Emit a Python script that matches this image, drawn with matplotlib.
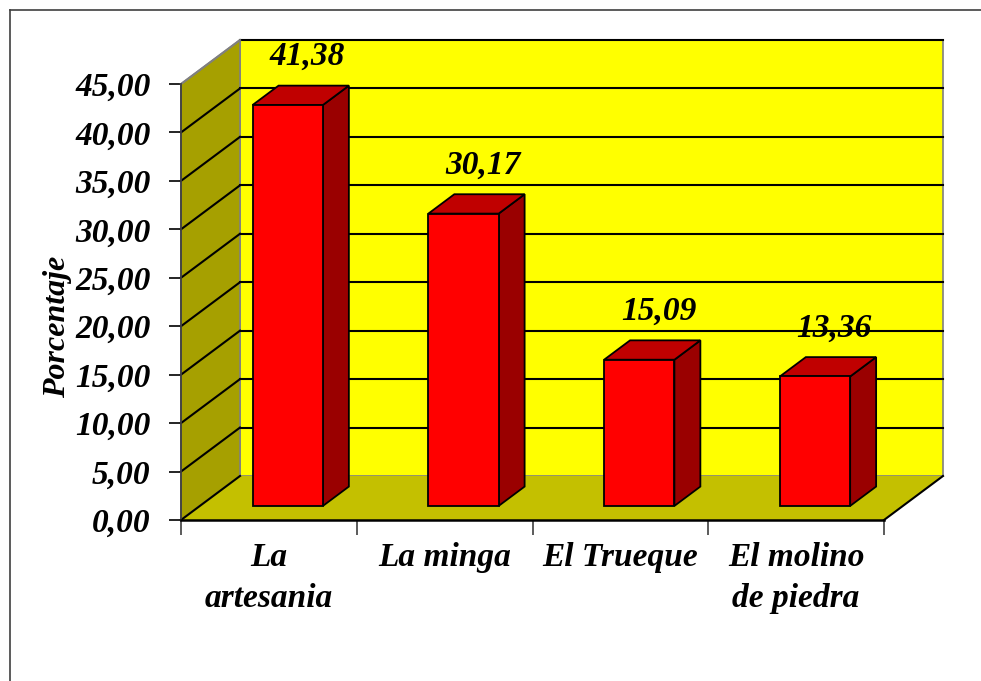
import matplotlib
matplotlib.use("Agg")
import matplotlib.pyplot as plt
from matplotlib.patches import Polygon
from matplotlib.lines import Line2D
import numpy as np

categorias = ["La\nartesania", "La minga", "El Trueque", "El molino\nde piedra"]
valores = [41.38, 30.17, 15.09, 13.36]
etiquetas = ["41,38", "30,17", "15,09", "13,36"]
yticks = [0, 5, 10, 15, 20, 25, 30, 35, 40, 45]

font = dict(family="Liberation Serif", weight="bold", style="italic")

fig = plt.figure(figsize=(9.81, 6.81), dpi=100)
ax = fig.add_axes([181 / 981, 161 / 681, 703 / 981, 436 / 681])
ax.set_xlim(-0.5, 3.5)
ax.set_ylim(0, 45)
ax.set_facecolor("none")

# depth offset of the back wall, in data units
ddx = 59 / 175.75
ddy = 44 / (436 / 45)
z0, z1 = 0.32, 0.76
bw = 0.2

x0, x1 = -0.5, 3.5
ymax = 45

# walls and floor
ax.add_patch(Polygon([(x0 + ddx, ddy), (x1 + ddx, ddy), (x1 + ddx, ymax + ddy), (x0 + ddx, ymax + ddy)],
                     closed=True, fc="#FFFF00", ec="#808080", lw=1.2, clip_on=False, zorder=1))
ax.add_patch(Polygon([(x0, 0), (x0 + ddx, ddy), (x0 + ddx, ymax + ddy), (x0, ymax)],
                     closed=True, fc="#A6A000", ec="#808080", lw=1.2, clip_on=False, zorder=1))
ax.add_patch(Polygon([(x0, 0), (x1, 0), (x1 + ddx, ddy), (x0 + ddx, ddy)],
                     closed=True, fc="#C4C000", ec="none", clip_on=False, zorder=1))
ax.plot([x1, x1 + ddx], [0, ddy], color="black", lw=1.5, clip_on=False, zorder=2)
ax.plot([x0, x0 + ddx], [0, ddy], color="black", lw=1.5, clip_on=False, zorder=2)

# gridlines on back and side walls
for v in yticks[1:]:
    ax.plot([x0 + ddx, x1 + ddx], [v + ddy, v + ddy], color="black", lw=1.5, clip_on=False, zorder=2)
    ax.plot([x0, x0 + ddx], [v, v + ddy], color="black" if v < 45 else "#808080",
            lw=1.5, clip_on=False, zorder=2)

# bars
for i, v in enumerate(valores):
    l = i - bw + z0 * ddx
    r = i + bw + z0 * ddx
    b0 = z0 * ddy
    front = [(l, b0), (r, b0), (r, v + b0), (l, v + b0)]
    side = [(r, b0), (r + (z1 - z0) * ddx, z1 * ddy), (r + (z1 - z0) * ddx, v + z1 * ddy), (r, v + b0)]
    top = [(l, v + b0), (r, v + b0), (r + (z1 - z0) * ddx, v + z1 * ddy), (l + (z1 - z0) * ddx, v + z1 * ddy)]
    ax.add_patch(Polygon(side, closed=True, fc="#9A0000", ec="black", lw=1.3, clip_on=False, zorder=3))
    ax.add_patch(Polygon(top, closed=True, fc="#C00000", ec="black", lw=1.3, clip_on=False, zorder=3))
    ax.add_patch(Polygon(front, closed=True, fc="#FF0000", ec="black", lw=1.3, clip_on=False, zorder=3))
    ax.text(i + 0.11 + z0 * ddx, v + z1 * ddy + 3.0, etiquetas[i], ha="center", va="center",
            fontsize=24, clip_on=False, zorder=4, **font)

# axes
for s in ["top", "right"]:
    ax.spines[s].set_visible(False)
ax.spines["left"].set_color("#404040")
ax.spines["left"].set_linewidth(1.3)
ax.spines["bottom"].set_color("black")
ax.spines["bottom"].set_linewidth(1.8)
ax.spines["left"].set_zorder(2)
ax.spines["bottom"].set_zorder(2)

ax.set_yticks(yticks)
ax.set_yticklabels([("%.2f" % t).replace(".", ",") for t in yticks], fontsize=24, **font)
ax.tick_params(axis="y", direction="out", length=9, width=1.2, pad=13, color="black")

ax.set_xticks(np.arange(-0.5, 4, 1))
ax.set_xticklabels([])
ax.set_xticks(np.arange(4), minor=True)
ax.set_xticklabels(categorias, minor=True, fontsize=24, linespacing=1.4, **font)
ax.tick_params(axis="x", which="major", direction="out", length=11, width=1.2, color="#404040")
ax.tick_params(axis="x", which="minor", length=0, pad=16)

ax.set_ylabel("Porcentaje", fontsize=23, **font)
ax.yaxis.set_label_coords(-0.155, 0.443)

# outer frame
fig.add_artist(Line2D([9.5 / 981, 9.5 / 981], [0, 1 - 10 / 681], color="#404040", lw=1.2))
fig.add_artist(Line2D([9.5 / 981, 1], [1 - 10 / 681, 1 - 10 / 681], color="#404040", lw=1.2))

fig.savefig("out.png", dpi=100)
